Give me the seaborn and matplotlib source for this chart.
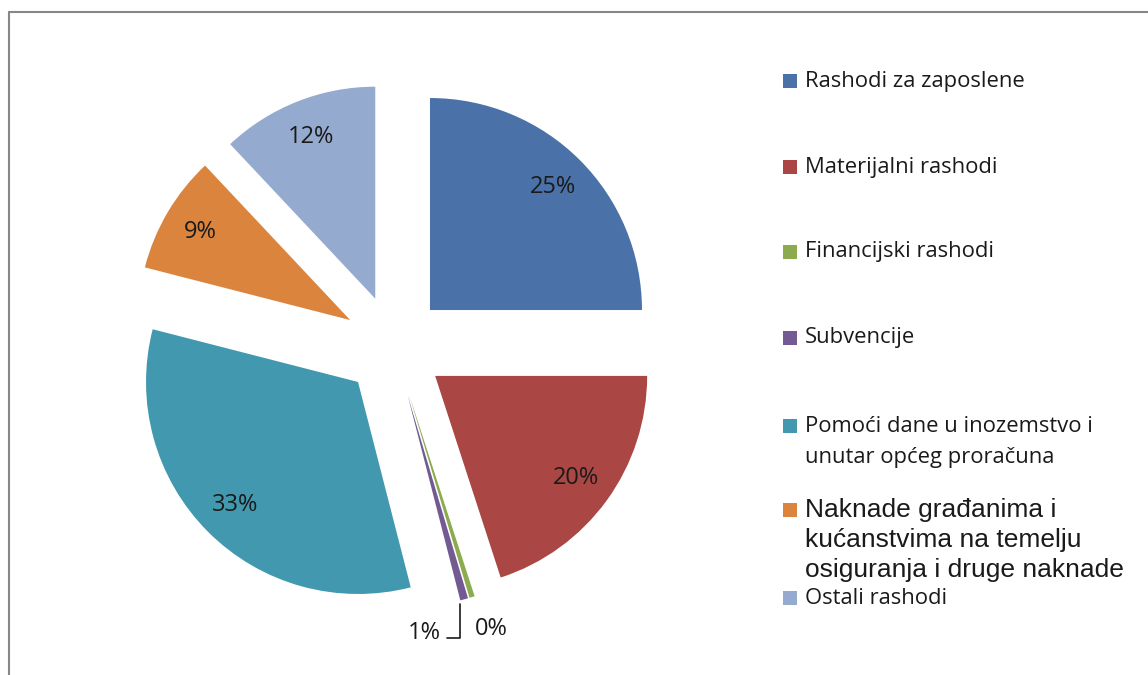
import matplotlib
matplotlib.use("Agg")
import numpy as np
import matplotlib.pyplot as plt
import seaborn as sns
from matplotlib.lines import Line2D
from matplotlib.patches import Rectangle

# data
categories = [
    "Rashodi za zaposlene",
    "Materijalni rashodi",
    "Financijski rashodi",
    "Subvencije",
    "Pomoći dane u inozemstvo i\nunutar općeg proračuna",
    "Naknade građanima i\nkućanstvima na temelju\nosiguranja i druge naknade",
    "Ostali rashodi",
]
shares = [25.0, 20.0, 0.4, 0.6, 33.0, 9.0, 12.0]
colors = ["#4A72A8", "#AA4744", "#8CAA4E", "#735A93", "#4299AF", "#DB843D", "#95AACF"]

sns.set_theme(style="white")
plt.rcParams["font.family"] = ["Open Sans", "DejaVu Sans"]

W, H = 1148, 675
fig = plt.figure(figsize=(W / 100, H / 100), dpi=100)
ax = fig.add_axes([0, 0, 1, 1])

explode = [0.24] * len(shares)
wedges, texts, autotexts = ax.pie(
    shares, colors=colors, explode=explode, startangle=90, counterclock=False,
    autopct="%.0f%%", pctdistance=0.82, radius=1.0,
    wedgeprops=dict(linewidth=0), textprops=dict(fontsize=17, color="#1a1a1a"),
)

# pixel -> data mapping: radius 212 px, centre at (394, 346) from top-left
r_px, cx, cy = 212.0, 394.0, 346.0
ax.set_aspect("auto")
ax.set_xlim(-cx / r_px, (W - cx) / r_px)
ax.set_ylim(-(H - cy) / r_px, cy / r_px)
ax.axis("off")

# small slices: labels below the tips
for i, w in enumerate(wedges):
    if shares[i] >= 1:
        continue
    th = np.deg2rad((w.theta1 + w.theta2) / 2)
    tip = np.array([np.cos(th), np.sin(th)]) * (1 + explode[i])
    t = autotexts[i]
    if categories[i] == "Subvencije":
        t.set_position((tip[0] - 0.19, tip[1] - 0.16))
        ax.annotate("", xy=(tip[0] - 0.02, tip[1] - 0.02), xytext=(tip[0] - 0.08, tip[1] - 0.18),
                    arrowprops=dict(arrowstyle="-", color="#1a1a1a", lw=1.2,
                                    connectionstyle="angle,angleA=0,angleB=90,rad=0",
                                    shrinkA=0, shrinkB=0))
    else:
        t.set_position((tip[0] + 0.09, tip[1] - 0.15))

# legend drawn by hand to keep the uneven spacing of the original
leg_rows = [[81], [167], [252], [338], [426, 458], [510, 540, 570], [598]]
for i, lab in enumerate(categories):
    ys = leg_rows[i]
    arial = lab.startswith("Naknade")
    fam = ["Liberation Sans", "DejaVu Sans"] if arial else ["Open Sans", "DejaVu Sans"]
    fig.add_artist(Rectangle((783 / W, 1 - (ys[0] + 7) / H), 14 / W, 14 / H,
                             transform=fig.transFigure, color=colors[i], lw=0))
    for line, y in zip(lab.split("\n"), ys):
        fig.text(805 / W, 1 - y / H, line, ha="left", va="center",
                 fontsize=19 if arial else 15.8, color="#1a1a1a", family=fam)

# chart-area border (top and left edges visible)
fig.add_artist(Line2D([9 / W, 1], [1 - 12 / H, 1 - 12 / H], transform=fig.transFigure,
                      color="#878787", lw=1.5))
fig.add_artist(Line2D([9 / W, 9 / W], [0, 1 - 12 / H], transform=fig.transFigure,
                      color="#878787", lw=1.5))

fig.savefig("out.png", dpi=100)
